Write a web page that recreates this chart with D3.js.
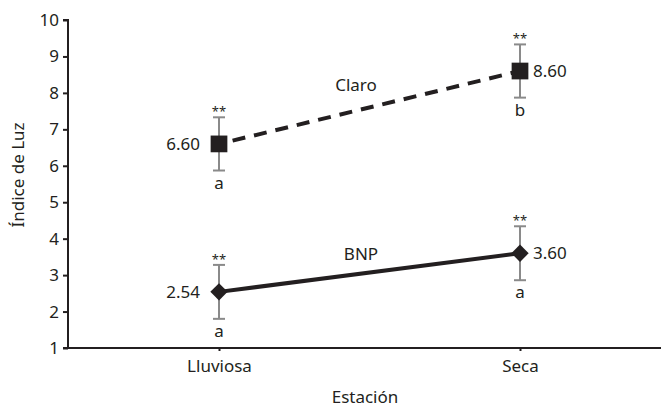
<!DOCTYPE html>
<html>
<head>
<meta charset="utf-8">
<script src="https://cdn.jsdelivr.net/npm/d3@7"></script>
<style>
  body { margin: 0; background: #fff; }
  text { font-family: "Noto Sans", sans-serif; fill: #231f20; }
</style>
</head>
<body>
<svg width="661" height="413"></svg>
<script>
// data
var seasons = ['Lluviosa', 'Seca'];
var claro = [6.60, 8.60];
var claroErr = [0.73, 0.73];
var claroLetters = ['a', 'b'];
var bnp = [2.54, 3.60];
var bnpErr = [0.74, 0.74];
var bnpLetters = ['a', 'a'];
var yTicks = [1, 2, 3, 4, 5, 6, 7, 8, 9, 10];

var W = 661, H = 413,
    root = d3.select('svg'),
    ink = '#231f20', gray = '#8a8a8a',
    fs = '17px';

var x = d3.scalePoint().domain(seasons).range([219, 520]),
    y = d3.scaleLinear().domain([1, 10]).range([348, 20]);

// axes
var yAxis = root.append('g')
  .attr('transform', 'translate(68,0)')
  .call(d3.axisLeft(y).tickValues(yTicks).tickSize(5).tickPadding(4));
yAxis.select('.domain').attr('stroke', ink).attr('stroke-width', 2)
  .attr('d', 'M-5,20H0V348');
yAxis.selectAll('.tick line').attr('stroke', ink).attr('stroke-width', 2);
yAxis.selectAll('.tick text').style('font-size', fs).attr('fill', ink);

var xAxis = root.append('g')
  .attr('transform', 'translate(0,348)')
  .call(d3.axisBottom(x).tickSize(3).tickPadding(9));
xAxis.select('.domain').attr('stroke', ink).attr('stroke-width', 2)
  .attr('d', 'M63,0H661');
xAxis.selectAll('.tick line').attr('stroke', ink).attr('stroke-width', 2);
xAxis.selectAll('.tick text').style('font-size', fs).attr('fill', ink);

root.append('text')
  .attr('x', 365).attr('y', 403)
  .attr('text-anchor', 'middle').style('font-size', fs)
  .text('Estación');
root.append('text')
  .attr('transform', 'translate(24,175) rotate(-90)')
  .attr('text-anchor', 'middle').style('font-size', fs)
  .text('Índice de Luz');

function series(vals, errs, letters, dashed, shape, name, nx, ny) {
  var pts = seasons.map(function(s, i) {
    return {s: s, v: vals[i], e: errs[i], l: letters[i], i: i};
  });
  var g = root.append('g');

  // error bars
  var eb = g.selectAll('.err').data(pts).enter().append('g')
    .attr('stroke', gray).attr('stroke-width', 2);
  eb.append('line')
    .attr('x1', function(d) { return x(d.s); })
    .attr('x2', function(d) { return x(d.s); })
    .attr('y1', function(d) { return y(d.v + d.e); })
    .attr('y2', function(d) { return y(d.v - d.e); });
  eb.append('line')
    .attr('x1', function(d) { return x(d.s) - 6; })
    .attr('x2', function(d) { return x(d.s) + 6; })
    .attr('y1', function(d) { return y(d.v + d.e); })
    .attr('y2', function(d) { return y(d.v + d.e); });
  eb.append('line')
    .attr('x1', function(d) { return x(d.s) - 6; })
    .attr('x2', function(d) { return x(d.s) + 6; })
    .attr('y1', function(d) { return y(d.v - d.e); })
    .attr('y2', function(d) { return y(d.v - d.e); });

  // line
  var line = d3.line()
    .x(function(d) { return x(d.s); })
    .y(function(d) { return y(d.v); });
  var path = g.append('path').datum(pts)
    .attr('d', line)
    .attr('fill', 'none').attr('stroke', ink).attr('stroke-width', 4);
  if (dashed) path.attr('stroke-dasharray', '13,9').attr('stroke-dashoffset', -14);

  // markers
  var diamond = shape === 'diamond';
  g.selectAll('.mk').data(pts).enter().append('path')
    .attr('transform', function(d) {
      return 'translate(' + x(d.s) + ',' + y(d.v) + ')' + (diamond ? ' rotate(45)' : '');
    })
    .attr('d', d3.symbol().type(d3.symbolSquare).size(diamond ? 150 : 280))
    .attr('fill', ink);

  // value labels
  g.selectAll('.val').data(pts).enter().append('text')
    .attr('x', function(d) { return d.i === 0 ? x(d.s) - 19 : x(d.s) + 13; })
    .attr('y', function(d) { return y(d.v) + 6; })
    .attr('text-anchor', function(d) { return d.i === 0 ? 'end' : 'start'; })
    .style('font-size', fs)
    .text(function(d) { return d.v.toFixed(2); });

  // significance stars
  g.selectAll('.star').data(pts).enter().append('text')
    .attr('x', function(d) { return x(d.s); })
    .attr('y', function(d) { return y(d.v + d.e) - 1; })
    .attr('text-anchor', 'middle')
    .style('font-size', '13px').attr('fill', '#666')
    .text('**');

  // letters
  g.selectAll('.let').data(pts).enter().append('text')
    .attr('x', function(d) { return x(d.s); })
    .attr('y', function(d) { return y(d.v - d.e) + 18; })
    .attr('text-anchor', 'middle')
    .style('font-size', fs)
    .text(function(d) { return d.l; });

  root.append('text')
    .attr('x', nx).attr('y', ny)
    .attr('text-anchor', 'middle').style('font-size', fs)
    .text(name);
}

series(claro, claroErr, claroLetters, true, 'square', 'Claro', 356, 91);
series(bnp, bnpErr, bnpLetters, false, 'diamond', 'BNP', 361, 260);
</script>
</body>
</html>
